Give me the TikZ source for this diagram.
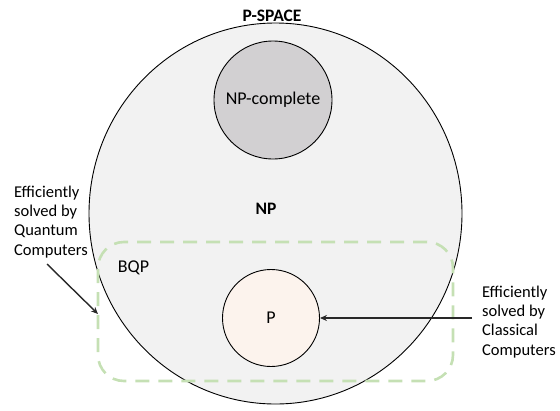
\documentclass[tikz,border=0pt]{standalone}
\usepackage{fontspec}
\setmainfont{Carlito}
\usetikzlibrary{arrows.meta,shapes.geometric}
\definecolor{outerfill}{RGB}{242,242,242}
\definecolor{npcfill}{RGB}{210,208,210}
\definecolor{pfill}{RGB}{252,243,237}
\definecolor{bqpgreen}{RGB}{197,224,180}
\definecolor{arrowcol}{RGB}{40,40,40}
\tikzset{
  setcircle/.style={draw=black, line width=0.9pt, inner sep=0pt},
  lbl/.style={font=\fontsize{18}{21}\selectfont, inner sep=0pt},
  boldlbl/.style={font=\fontsize{17.5}{21}\selectfont\bfseries, inner sep=0pt},
  side/.style={font=\fontsize{16.5}{19.2}\selectfont, align=left, inner sep=0pt, anchor=base west},
  pointer/.style={draw=arrowcol, line width=1.4pt, -{Stealth[length=7pt,width=6pt]}}
}
\begin{document}
\begin{tikzpicture}[x=1pt,y=-1pt]
\useasboundingbox (0,0) rectangle (560,410);
\node[setcircle, ellipse, fill=outerfill, minimum width=373pt, minimum height=381pt] (pspace) at (275.5,213.5) {};
\node[setcircle, circle, fill=npcfill, minimum size=118pt] (npc) at (273,100) {};
\node[lbl] at (npc.center) {NP-complete};
\node[boldlbl] (ps) at (272,16) {P-SPACE};
\node[boldlbl] (np) at (266,209) {NP};
\node[draw=bqpgreen, line width=2.6pt, dash pattern=on 14pt off 9pt, rounded corners=26pt, minimum width=355pt, minimum height=139pt, inner sep=0pt] (bqp) at (275.5,311.5) {};
\node[lbl] (bqplbl) at (133.5,268) {BQP};
\node[setcircle, circle, fill=pfill, minimum size=97pt] (p) at (271,318) {};
\node[lbl] at (p.center) {P};
\node[side] (qtext) at (14,255) {Efficiently\\solved by\\Quantum\\Computers};
\node[side] (ctext) at (482,355) {Efficiently\\solved by\\Classical\\Computers};
\coordinate (qstart) at (47,264);
\coordinate (qend) at (98,314);
\coordinate (cstart) at (472,318);
\draw[pointer] (qstart) -- (qend);
\draw[pointer] (cstart) -- (p.east);
\end{tikzpicture}
\end{document}
